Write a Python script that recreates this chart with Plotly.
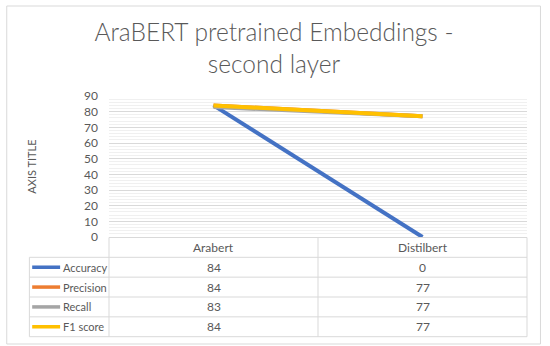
import plotly.graph_objects as go

categories = ["Arabert", "Distilbert"]
series_names = ["Accuracy", "Precision", "Recall", "F1 score"]
accuracy = [84, 0]
precision = [84, 77]
recall = [83, 77]
f1_score = [84, 77]
series_values = [accuracy, precision, recall, f1_score]
series_colors = ["#4472C4", "#ED7D31", "#A5A5A5", "#FFC000"]
y_ticks = [0, 10, 20, 30, 40, 50, 60, 70, 80, 90]

W, H = 550, 346
L, R, T, B = 108.5, 527.5, 96, 237  # plot area in pixels
FONT = "Lato"
GRID = "#d9d9d9"
TXT = "#595959"


def px_x(p):
    return (p - L) / (R - L)


def px_y(p):
    return (B - p) / (B - T)


fig = go.Figure()
for name, vals, col in zip(series_names, series_values, series_colors):
    fig.add_trace(go.Scatter(x=categories, y=vals, name=name, mode="lines",
                             line=dict(color=col, width=4), hoverinfo="skip"))

shapes = []
# outer chart border
shapes.append(dict(type="rect", xref="paper", yref="paper",
                   x0=px_x(6), x1=px_x(541), y0=px_y(6), y1=px_y(344),
                   line=dict(color=GRID, width=1), layer="below"))

# data table rows
header_top, header_bot = 237.5, 257.3
row_h = 19.85
row_edges = [header_bot + i * row_h for i in range(len(series_names) + 1)]
leg_left = 28.7

shapes.append(dict(type="line", xref="paper", yref="paper",
                   x0=0, x1=1, y0=px_y(header_top), y1=px_y(header_top),
                   line=dict(color=GRID, width=1)))
for e in row_edges:
    shapes.append(dict(type="line", xref="paper", yref="paper",
                       x0=px_x(leg_left), x1=1, y0=px_y(e), y1=px_y(e),
                       line=dict(color=GRID, width=1)))
# vertical lines
for xp in [0, 1]:
    shapes.append(dict(type="line", xref="paper", yref="paper",
                       x0=xp, x1=xp, y0=px_y(header_top), y1=px_y(row_edges[-1]),
                       line=dict(color=GRID, width=1)))
for i in range(len(categories) - 1):
    shapes.append(dict(type="line", xref="x", yref="paper",
                       x0=i + 0.5, x1=i + 0.5, y0=px_y(header_top), y1=px_y(row_edges[-1]),
                       line=dict(color=GRID, width=1)))
shapes.append(dict(type="line", xref="paper", yref="paper",
                   x0=px_x(leg_left), x1=px_x(leg_left),
                   y0=px_y(header_bot), y1=px_y(row_edges[-1]),
                   line=dict(color=GRID, width=1)))

annotations = []
# header labels
for c in categories:
    annotations.append(dict(x=c, xref="x", y=px_y((header_top + header_bot) / 2), yref="paper",
                            text=c, showarrow=False, xanchor="center", yanchor="middle",
                            font=dict(family=FONT, size=12, color=TXT)))
# rows
for i, (name, vals, col) in enumerate(zip(series_names, series_values, series_colors)):
    yc = px_y((row_edges[i] + row_edges[i + 1]) / 2)
    shapes.append(dict(type="line", xref="paper", yref="paper",
                       x0=px_x(31.5), x1=px_x(59.5), y0=yc, y1=yc,
                       line=dict(color=col, width=3.5)))
    annotations.append(dict(x=px_x(60), xref="paper", y=yc, yref="paper",
                            text=name, showarrow=False, xanchor="left", yanchor="middle",
                            font=dict(family=FONT, size=11, color=TXT)))
    for c, v in zip(categories, vals):
        annotations.append(dict(x=c, xref="x", y=yc, yref="paper",
                                text=str(v), showarrow=False, xanchor="center", yanchor="middle",
                                font=dict(family=FONT, size=12, color=TXT)))

# axis title
annotations.append(dict(x=px_x(30), xref="paper", y=px_y(167), yref="paper",
                        text="AXIS TITLE", textangle=-90, showarrow=False,
                        xanchor="center", yanchor="middle",
                        font=dict(family=FONT, size=11, color=TXT)))

fig.update_layout(
    width=W, height=H,
    margin=dict(l=L, r=W - R, t=T, b=H - B, pad=0),
    paper_bgcolor="white", plot_bgcolor="white",
    showlegend=False,
    title=dict(text="AraBERT pretrained Embeddings -<br>second layer",
               x=274 / W, xanchor="center",
               y=1 - 41 / H, yanchor="top",
               font=dict(family=FONT, size=24.5, color=TXT, weight=300)),
    xaxis=dict(type="category", range=[-0.5, len(categories) - 0.5],
               showticklabels=False, showgrid=False, zeroline=False, showline=False,
               fixedrange=True),
    yaxis=dict(range=[0, 90], tickvals=y_ticks, showgrid=True, gridcolor=GRID, gridwidth=1,
               zeroline=False, showline=False, ticks="", ticklabelstandoff=10,
               tickfont=dict(family=FONT, size=12, color=TXT),
               minor=dict(dtick=2, showgrid=True, gridcolor="#f0f0f0", gridwidth=1),
               fixedrange=True),
    shapes=shapes,
    annotations=annotations,
)

fig.write_html("out.html", config={"displayModeBar": False},
               post_script="document.body.style.margin='0px';")
